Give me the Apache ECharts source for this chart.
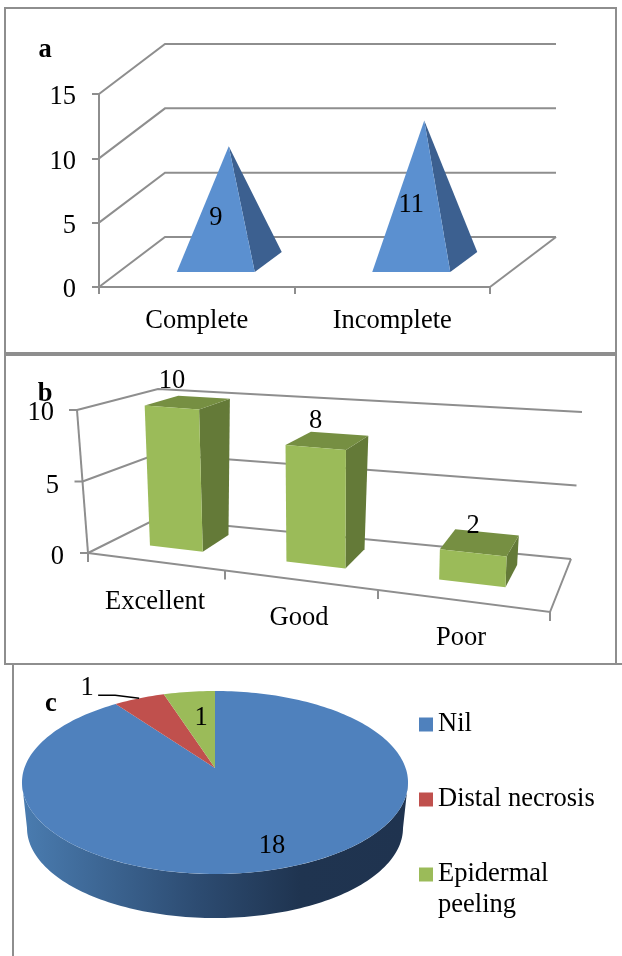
<!DOCTYPE html>
<html>
<head>
<meta charset="utf-8">
<style>html,body{margin:0;padding:0;background:#fff}#c{width:622px;height:956px}</style>
<script src="https://cdn.jsdelivr.net/npm/echarts@6/dist/echarts.min.js"></script>
</head>
<body>
<div id="c"></div>
<script>
// ---- data ----
const healingCategories = ['Complete', 'Incomplete'];
const healingValues = [9, 11];
const healingTicks = [0, 5, 10, 15];
const outcomeCategories = ['Excellent', 'Good', 'Poor'];
const outcomeValues = [10, 8, 2];
const outcomeTicks = [0, 5, 10];
const pieNames = ['Nil', 'Distal necrosis', 'Epidermal peeling'];
const pieValues = [18, 1, 1];

// ---- style ----
const FONT = '"Liberation Serif","Times New Roman",serif';
const TXT = '26.5px ' + FONT;
const GRID = '#8e8e8e';
const line = (pts, w) => ({type:'polyline', silent:true, shape:{points:pts}, style:{stroke:GRID, lineWidth:w||2, fill:null}});
const poly = (pts, fill) => ({type:'polygon', silent:true, shape:{points:pts}, style:{fill:fill}});
const text = (t, x, y) => ({type:'text', silent:true, style:{text:String(t), x:x, y:y, fill:'#000', font:TXT, align:'center', verticalAlign:'middle'}});

// ---- panel a: oblique depth ----
const A_DX = 66, A_DY = -50;
function wallsA(params, api) {
  const cs = params.coordSys;
  const y = api.coord([0, api.value(1)])[1];
  const L = cs.x, R = cs.x + cs.width;
  const pts = [[L, y], [L + A_DX, y + A_DY], [R + A_DX, y + A_DY]];
  const kids = [line(pts)];
  if (api.value(1) === 0) kids.push(line([[R + A_DX, y + A_DY], [R, y]]));
  return {type:'group', children:kids};
}
function pyramid(params, api) {
  const top = api.coord([api.value(0), api.value(1)]);
  const base = api.coord([api.value(0), 0]);
  const fl = [base[0] - 20, base[1] - 15], fr = [base[0] + 58, base[1] - 15], br = [base[0] + 85, base[1] - 35];
  const apex = [top[0] + 32, top[1] - 25];
  return {type:'group', children:[
    poly([apex, fr, br], '#3c6090'),
    poly([apex, fl, fr], '#5b90d0'),
    text(api.value(1), base[0] + 19, (apex[1] + fl[1]) / 2 + 8.5)
  ]};
}

// ---- panel b: perspective projection of the grid ----
const FL = [88, 553], FR = [550, 612], BL = [156, 519], BR = [571, 559];
const HFL = [-11, -143], HFR = [5, -162], HBL = [2, -130], HBR = [11, -147];
const K = 0.843;
const mix = (a, b, t) => [a[0] + (b[0] - a[0]) * t, a[1] + (b[1] - a[1]) * t];
function proj(u, d, v) {
  const w = K * u / (1 + (K - 1) * u);
  const f = mix(mix(FL, FR, w), mix(BL, BR, w), d);
  const h = mix(mix(HFL, HFR, w), mix(HBL, HBR, w), d);
  return [f[0] + h[0] * v, f[1] + h[1] * v];
}
function wallsB(params, api) {
  const cs = params.coordSys;
  const v = (cs.y + cs.height - api.coord([0, api.value(1)])[1]) / cs.height;
  const a = proj(0, 0, v), b = proj(0, 1, v), c = proj(1, 1, v);
  const kids = [line([a, b, c]), line([[a[0] - 8, a[1]], a])];
  if (params.dataIndex === 0) {
    kids.push(line([proj(0, 0, 0), proj(1, 0, 0), proj(1, 1, 0)]));
    kids.push(line([proj(0, 0, 1), proj(0, 0, 0)]));
    for (let i = 0; i <= outcomeCategories.length; i++) {
      const t = proj(i / outcomeCategories.length, 0, 0);
      kids.push(line([t, [t[0], t[1] + 9]]));
    }
  }
  return {type:'group', children:kids};
}
function bar3d(params, api) {
  const cs = params.coordSys;
  const c = api.coord([api.value(0), api.value(1)]);
  const band = api.size([1, 0])[0];
  const hw = 0.2 * band / cs.width;
  const u = (c[0] - cs.x) / cs.width;
  const v = (cs.y + cs.height - c[1]) / cs.height;
  const u0 = u - hw, u1 = u + hw, d0 = 0.35, d1 = 0.79;
  const p = (uu, dd, vv) => proj(uu, dd, vv);
  const tm = mix(p(u0, d0, v), p(u1, d0, v), 0.5);
  return {type:'group', children:[
    poly([p(u1, d0, 0), p(u1, d1, 0), p(u1, d1, v), p(u1, d0, v)], '#647a38'),
    poly([p(u0, d0, v), p(u1, d0, v), p(u1, d1, v), p(u0, d1, v)], '#768f42'),
    poly([p(u0, d0, 0), p(u1, d0, 0), p(u1, d0, v), p(u0, d0, v)], '#9bbb59'),
    text(api.value(1), tm[0], tm[1] - 27)
  ]};
}

// ---- panel c: projected circle ----
const PIE = {cx:215, cy:768, R:190.6, S:89.2, e:0.158};
function pieP(a, f) {
  const w = 1 + PIE.e * f * Math.cos(a);
  return [PIE.cx + PIE.R * f * Math.sin(a) / w, PIE.cy - PIE.S * f * Math.cos(a) / w];
}
const pieTotal = pieValues.reduce((s, x) => s + x, 0);
function sliceAngles(i) {
  let s = 0;
  for (let k = 0; k < i; k++) s += pieValues[k];
  return [s / pieTotal * 2 * Math.PI, (s + pieValues[i]) / pieTotal * 2 * Math.PI];
}
function pieSlice(i) {
  return function (params, api) {
    const [a0, a1] = sliceAngles(i);
    const n = Math.max(4, Math.ceil((a1 - a0) * 40));
    const pts = [pieP(0, 0)];
    for (let k = 0; k <= n; k++) pts.push(pieP(a0 + (a1 - a0) * k / n, 1));
    const mid = (a0 + a1) / 2;
    const kids = [];
    if (i === 0) {
      const top = [], bot = [];
      for (let k = 0; k <= 120; k++) {
        const t = Math.PI / 2 + Math.PI * k / 120;
        top.push([215 + 193 * Math.sin(t), 782.5 - 91.5 * Math.cos(t)]);
        bot.unshift([215 + 188 * Math.sin(t), 828 - 90 * Math.cos(t)]);
      }
      kids.push(poly(top.concat(bot), new echarts.graphic.LinearGradient(1, 0, 0, 0, [
        {offset:0, color:'#1f334f'}, {offset:0.28, color:'#1f3450'},
        {offset:0.55, color:'#2d4c72'}, {offset:1, color:'#4a7cb0'}
      ])));
    }
    kids.push(poly(pts, api.visual('color')));
    if (i === 0) { const q = pieP(mid, 0.82); kids.push(text(api.value(0), q[0] + 2, q[1] - 1)); }
    if (i === 1) {
      const e = pieP(mid, 1);
      kids.push({type:'polyline', silent:true, shape:{points:[e, [e[0] - 24, e[1] - 3], [e[0] - 41, e[1] - 3]]}, style:{stroke:'#000', lineWidth:1.5, fill:null}});
      kids.push(text(api.value(0), e[0] - 52, e[1] - 10));
    }
    if (i === 2) { const q = pieP(mid, 0.62); kids.push(text(api.value(0), q[0] + 3, q[1])); }
    return {type:'group', children:kids};
  };
}

const pieColors = ['#4f81bd', '#c0504d', '#9bbb59'];
const legendTops = [709, 784, 828];
const chart = echarts.init(document.getElementById('c'), null, {renderer:'canvas'});
const axisText = {color:'#000', fontFamily:FONT, fontSize:26.5};
const axisLn = {lineStyle:{color:GRID, width:2}};

chart.setOption({
  animation:false,
  backgroundColor:'#fff',
  grid:[
    {left:99, top:94, width:391, height:193},
    {left:88, top:410, width:462, height:143}
  ],
  xAxis:[
    {gridIndex:0, type:'category', data:healingCategories, axisLine:axisLn, axisTick:{show:true, length:7, lineStyle:{color:GRID, width:2}}, axisLabel:Object.assign({margin:21, interval:0, hideOverlap:false}, axisText), splitLine:{show:false}},
    {gridIndex:1, type:'category', data:outcomeCategories, axisLine:{show:false}, axisTick:{show:false},
     axisLabel:Object.assign({margin:36, interval:0, hideOverlap:false, formatter:(v, i) => '{l' + i + '|' + v + '}',
       rich:{
         l0:Object.assign({}, axisText, {padding:[0, 20, 0, 0]}),
         l1:Object.assign({}, axisText, {padding:[16, 40, 0, 0]}),
         l2:Object.assign({}, axisText, {padding:[36, 24, 0, 0]})
       }}, axisText), splitLine:{show:false}}
  ],
  yAxis:[
    {gridIndex:0, type:'value', min:0, max:healingTicks[healingTicks.length - 1], interval:5, axisLine:{show:true, lineStyle:{color:GRID, width:2}}, axisTick:{show:true, length:7, lineStyle:{color:GRID, width:2}}, axisLabel:Object.assign({margin:23, formatter:(v) => '{v|' + v + '}', rich:{v:Object.assign({}, axisText, {padding:[7, 0, 0, 0]})}}, axisText), splitLine:{show:false}},
    {gridIndex:1, type:'value', min:0, max:outcomeTicks[outcomeTicks.length - 1], interval:5, axisLine:{show:false}, axisTick:{show:false},
     axisLabel:Object.assign({margin:24, formatter:(v) => '{v' + v + '|' + v + '}',
       rich:{
         v0:Object.assign({}, axisText, {padding:[8, 0, 0, 0]}),
         v5:Object.assign({}, axisText, {padding:[9, 5, 0, 0]}),
         v10:Object.assign({}, axisText, {padding:[6, 10, 0, 0]})
       }}, axisText), splitLine:{show:false}}
  ],
  legend:pieNames.map((n, i) => ({
    data:[n], left:419, top:legendTops[i], orient:'vertical', icon:'rect', itemWidth:14, itemHeight:14, itemGap:0, selectedMode:false,
    padding:0, textStyle:{color:'#000', fontFamily:FONT, fontSize:26.5, lineHeight:31, padding:[0, 0, 0, 0]},
    formatter:(s) => s === 'Epidermal peeling' ? '\nEpidermal\npeeling' : s
  })),
  graphic:[
    {type:'rect', silent:true, z:0, shape:{x:5, y:8, width:611, height:345}, style:{fill:null, stroke:GRID, lineWidth:2}},
    {type:'rect', silent:true, z:0, shape:{x:5, y:355, width:611, height:309}, style:{fill:null, stroke:GRID, lineWidth:2}},
    {type:'line', silent:true, shape:{x1:5, y1:664, x2:622, y2:664}, style:{stroke:GRID, lineWidth:2}},
    {type:'line', silent:true, shape:{x1:13, y1:664, x2:13, y2:956}, style:{stroke:GRID, lineWidth:2}},
    {type:'text', z:10, silent:true, style:{text:'a', x:45, y:50, fill:'#000', font:'bold 26.5px ' + FONT, align:'center', verticalAlign:'middle'}},
    {type:'text', z:10, silent:true, style:{text:'b', x:45, y:394, fill:'#000', font:'bold 26.5px ' + FONT, align:'center', verticalAlign:'middle'}},
    {type:'text', z:10, silent:true, style:{text:'c', x:51, y:704, fill:'#000', font:'bold 26.5px ' + FONT, align:'center', verticalAlign:'middle'}}
  ],
  series:[
    {type:'custom', name:'walls a', xAxisIndex:0, yAxisIndex:0, silent:true, z:1, data:healingTicks.map(t => [0, t]), encode:{x:0, y:1}, renderItem:wallsA},
    {type:'custom', name:'Healing', xAxisIndex:0, yAxisIndex:0, silent:true, z:3, data:healingValues.map((v, i) => [i, v]), encode:{x:0, y:1}, renderItem:pyramid},
    {type:'custom', name:'walls b', xAxisIndex:1, yAxisIndex:1, silent:true, z:1, data:outcomeTicks.map(t => [0, t]), encode:{x:0, y:1}, renderItem:wallsB},
    {type:'custom', name:'Outcome', xAxisIndex:1, yAxisIndex:1, silent:true, z:3, data:outcomeValues.map((v, i) => [i, v]), encode:{x:0, y:1}, renderItem:bar3d}
  ].concat(pieNames.map((n, i) => ({
    type:'custom', name:n, coordinateSystem:'none', silent:true, z:3 + (i ? 1 : 0), itemStyle:{color:pieColors[i]},
    data:[[pieValues[i]]], renderItem:pieSlice(i)
  })))
});
</script>
</body>
</html>
